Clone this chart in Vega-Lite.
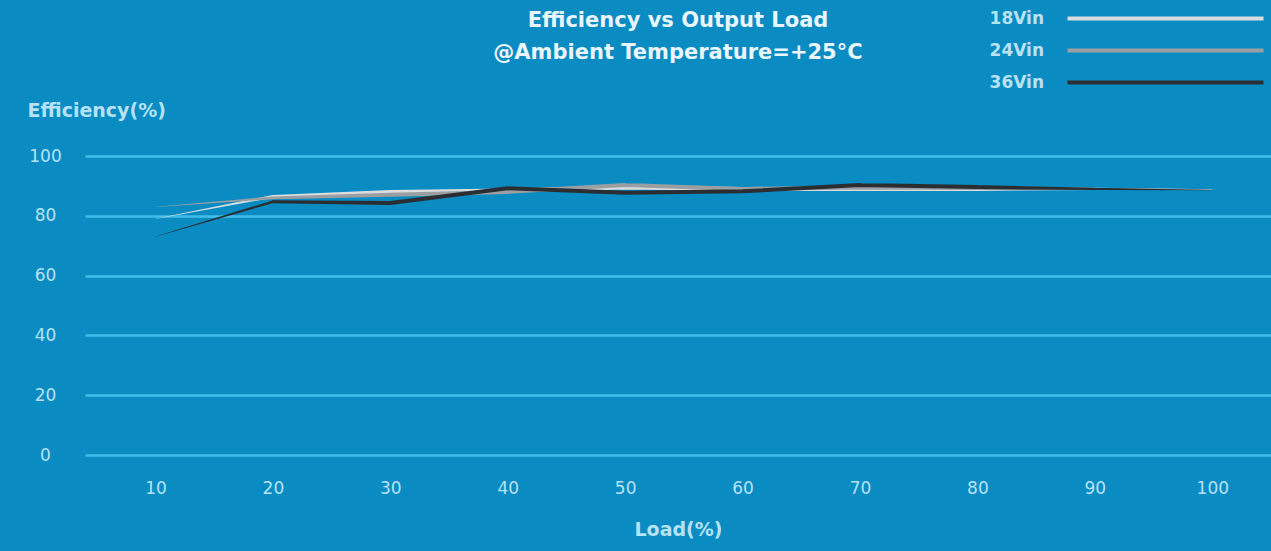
{
  "$schema": "https://vega.github.io/schema/vega-lite/v6.json",
  "autosize": "none",
  "width": 1186,
  "height": 299,
  "padding": {"left": 85, "top": 156, "right": 0, "bottom": 96},
  "background": "#0a8bc1",
  "title": {
    "text": ["Efficiency vs Output Load", "@Ambient Temperature=+25°C"],
    "anchor": "middle",
    "font": "DejaVu Sans",
    "fontSize": 21,
    "fontWeight": "bold",
    "color": "#e8f5fb",
    "lineHeight": 32,
    "offset": 0,
    "dy": 53
  },
  "config": {
    "view": {"stroke": null},
    "font": "DejaVu Sans"
  },
  "data": {
    "values": [
      {"load": 10, "eff": 79, "vin": "18Vin"},
      {"load": 20, "eff": 86.5, "vin": "18Vin"},
      {"load": 30, "eff": 88, "vin": "18Vin"},
      {"load": 40, "eff": 88.5, "vin": "18Vin"},
      {"load": 50, "eff": 89.5, "vin": "18Vin"},
      {"load": 60, "eff": 89, "vin": "18Vin"},
      {"load": 70, "eff": 89, "vin": "18Vin"},
      {"load": 80, "eff": 89, "vin": "18Vin"},
      {"load": 90, "eff": 89, "vin": "18Vin"},
      {"load": 100, "eff": 88.8, "vin": "18Vin"},
      {"load": 10, "eff": 83, "vin": "24Vin"},
      {"load": 20, "eff": 86, "vin": "24Vin"},
      {"load": 30, "eff": 87, "vin": "24Vin"},
      {"load": 40, "eff": 88, "vin": "24Vin"},
      {"load": 50, "eff": 90.3, "vin": "24Vin"},
      {"load": 60, "eff": 89, "vin": "24Vin"},
      {"load": 70, "eff": 89.5, "vin": "24Vin"},
      {"load": 80, "eff": 89.3, "vin": "24Vin"},
      {"load": 90, "eff": 89, "vin": "24Vin"},
      {"load": 100, "eff": 88.8, "vin": "24Vin"},
      {"load": 10, "eff": 73, "vin": "36Vin"},
      {"load": 20, "eff": 84.7, "vin": "36Vin"},
      {"load": 30, "eff": 84.3, "vin": "36Vin"},
      {"load": 40, "eff": 89.2, "vin": "36Vin"},
      {"load": 50, "eff": 87.7, "vin": "36Vin"},
      {"load": 60, "eff": 88.2, "vin": "36Vin"},
      {"load": 70, "eff": 90.3, "vin": "36Vin"},
      {"load": 80, "eff": 89.6, "vin": "36Vin"},
      {"load": 90, "eff": 89, "vin": "36Vin"},
      {"load": 100, "eff": 88.6, "vin": "36Vin"}
    ]
  },
  "mark": {"type": "trail"},
  "encoding": {
    "x": {
      "field": "load",
      "type": "quantitative",
      "scale": {"domain": [4, 105], "nice": false, "zero": false},
      "axis": {
        "values": [10, 20, 30, 40, 50, 60, 70, 80, 90, 100],
        "grid": false,
        "domain": false,
        "ticks": false,
        "labelPadding": 25,
        "labelFont": "DejaVu Sans",
        "labelFontSize": 17,
        "labelColor": "#b6e2f4",
        "title": "Load(%)",
        "titleFont": "DejaVu Sans",
        "titleFontSize": 19,
        "titleFontWeight": "bold",
        "titleColor": "#b6e2f4",
        "titlePadding": 24
      }
    },
    "y": {
      "field": "eff",
      "type": "quantitative",
      "scale": {"domain": [0, 100], "nice": false},
      "axis": {
        "values": [0, 20, 40, 60, 80, 100],
        "grid": true,
        "gridColor": "#48c3ec",
        "gridWidth": 2.5,
        "gridOpacity": 0.9,
        "domain": false,
        "ticks": false,
        "labelAlign": "center",
        "labelPadding": 40,
        "labelFont": "DejaVu Sans",
        "labelFontSize": 17,
        "labelColor": "#b6e2f4",
        "title": "Efficiency(%)",
        "titleAngle": 0,
        "titleAlign": "left",
        "titleBaseline": "middle",
        "titleX": -58,
        "titleY": -46,
        "titleFont": "DejaVu Sans",
        "titleFontSize": 19,
        "titleFontWeight": "bold",
        "titleColor": "#b6e2f4"
      }
    },
    "color": {
      "field": "vin",
      "type": "nominal",
      "scale": {"domain": ["18Vin", "24Vin", "36Vin"], "range": ["#d9dde0", "#9c9fa1", "#2a2e32"]},
      "legend": {
        "title": null,
        "orient": "none",
        "legendX": 1072,
        "legendY": -146,
        "symbolType": "M-49,0H49",
        "symbolSize": 16,
        "symbolStrokeWidth": 4,
        "labelAlign": "right",
        "labelOffset": -130,
        "labelFont": "DejaVu Sans",
        "labelFontSize": 17,
        "labelFontWeight": "bold",
        "labelColor": "#b6e2f4",
        "rowPadding": 14
      }
    },
    "size": {
      "field": "load",
      "type": "quantitative",
      "scale": {"domain": [10, 25, 80, 100], "range": [0.3, 4, 4, 0.3]},
      "legend": null
    },
    "order": {"field": "load"}
  }
}
